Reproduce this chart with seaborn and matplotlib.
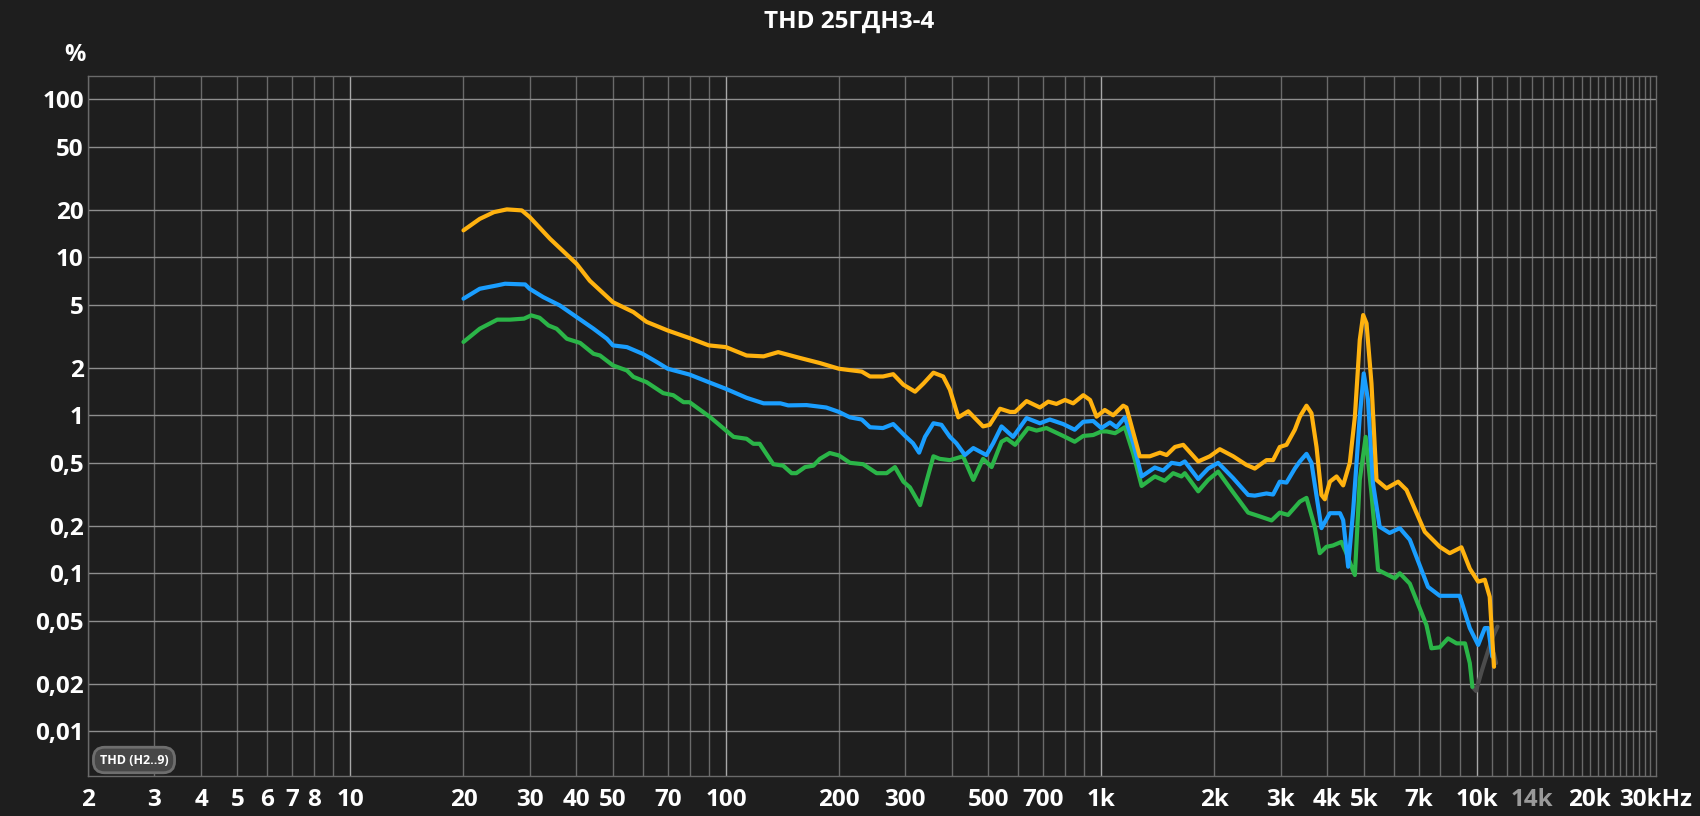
import matplotlib
matplotlib.use("Agg")
import matplotlib.pyplot as plt
import seaborn as sns
import pandas as pd
import numpy as np

# ---------------- data ----------------
orange_f = [20, 22.1, 24.1, 26.1, 28.6, 30, 34, 40, 43.4, 50, 56.7, 61.5, 70, 80, 90, 100, 113.5, 126, 137.8, 157, 178, 200,
            214, 230, 242, 262, 279, 297, 319, 336, 357, 379, 395, 416, 442, 484, 504, 537, 571, 589, 632, 686, 722, 759,
            800, 841, 895, 933, 971, 1021, 1075, 1143, 1166, 1265, 1346, 1432, 1492, 1570, 1652, 1811, 1945, 2067, 2244,
            2434, 2562, 2752, 2866, 2986, 3112, 3275, 3377, 3518, 3627, 3741, 3856, 3937, 4060, 4230, 4405, 4588, 4733,
            4877, 4980, 5083, 5240, 5404, 5746, 6170, 6495, 7267, 7966, 8467, 9096, 9576, 10080, 10500, 10820, 11110]
orange_v = [14.8, 17.5, 19.3, 20.1, 19.8, 18.0, 13.1, 9.1, 7.1, 5.2, 4.5, 3.9, 3.44, 3.08, 2.77, 2.70, 2.39, 2.36, 2.51, 2.31,
            2.14, 1.97, 1.93, 1.89, 1.76, 1.76, 1.82, 1.56, 1.41, 1.59, 1.86, 1.76, 1.45, 0.97, 1.06, 0.85, 0.87, 1.10, 1.05,
            1.05, 1.23, 1.12, 1.22, 1.18, 1.25, 1.19, 1.34, 1.25, 0.98, 1.08, 1.0, 1.15, 1.12, 0.55, 0.55, 0.58, 0.56, 0.63,
            0.65, 0.51, 0.55, 0.61, 0.55, 0.485, 0.46, 0.52, 0.52, 0.63, 0.65, 0.81, 0.98, 1.15, 1.03, 0.63, 0.313, 0.294,
            0.38, 0.41, 0.36, 0.50, 0.98, 3.0, 4.31, 3.82, 1.59, 0.39, 0.345, 0.38, 0.337, 0.183, 0.147, 0.134, 0.146,
            0.107, 0.0885, 0.091, 0.071, 0.0256]

blue_f = [20, 22.1, 24.6, 25.8, 29.2, 30, 32.6, 36.1, 40, 44.4, 48.2, 50, 54.5, 60, 65.5, 70, 80, 90, 100, 113.5, 126, 139.7,
          146.5, 164, 185, 200, 214, 230, 242, 262, 279, 300, 315, 327, 339, 357, 375, 395, 411, 433, 456, 494, 515, 542,
          582, 632, 686, 729, 791, 849, 895, 951, 1000, 1054, 1097, 1155, 1216, 1280, 1388, 1461, 1538, 1619, 1668, 1811,
          1925, 2046, 2244, 2460, 2562, 2752, 2866, 2986, 3112, 3275, 3377, 3518, 3627, 3856, 4060, 4320, 4405, 4542,
          4685, 4877, 4997, 5130, 5290, 5510, 5855, 6233, 6629, 7412, 7966, 9000, 9576, 10080, 10500, 10720, 10990]
blue_v = [5.47, 6.32, 6.64, 6.8, 6.73, 6.32, 5.6, 4.96, 4.19, 3.53, 3.05, 2.77, 2.70, 2.45, 2.17, 1.97, 1.81, 1.62, 1.47,
          1.29, 1.19, 1.19, 1.155, 1.16, 1.12, 1.05, 0.97, 0.94, 0.84, 0.83, 0.88, 0.74, 0.665, 0.58, 0.73, 0.89, 0.87,
          0.73, 0.665, 0.56, 0.62, 0.56, 0.665, 0.85, 0.73, 0.96, 0.89, 0.94, 0.88, 0.81, 0.91, 0.92, 0.83, 0.90, 0.84,
          0.97, 0.665, 0.41, 0.467, 0.447, 0.50, 0.49, 0.51, 0.395, 0.46, 0.50, 0.40, 0.313, 0.31, 0.32, 0.315, 0.38,
          0.375, 0.46, 0.51, 0.57, 0.50, 0.193, 0.24, 0.24, 0.217, 0.11, 0.252, 0.98, 1.84, 1.25, 0.37, 0.197, 0.18,
          0.193, 0.163, 0.082, 0.072, 0.072, 0.045, 0.0352, 0.045, 0.045, 0.0297]

green_f = [20, 22.1, 24.6, 26.6, 29.0, 30.3, 31.9, 33.7, 35.4, 37.7, 40.9, 44.4, 46.2, 50, 54.5, 56.7, 61.5, 68.1, 72.4,
           77.1, 80, 90.7, 104.8, 113.5, 118.3, 123, 133.7, 142, 149.6, 154, 162.5, 171, 178, 189, 200, 214, 232, 252,
           268, 282, 297, 309, 329, 342, 357, 371, 395, 428, 456, 484, 510, 542, 560, 589, 638, 672, 714, 791, 849, 895,
           951, 1000, 1034, 1087, 1155, 1216, 1280, 1388, 1475, 1553, 1634, 1668, 1811, 1925, 2046, 2244, 2460, 2643,
           2840, 2986, 3142, 3377, 3518, 3700, 3816, 3974, 4140, 4357, 4494, 4637, 4733, 4877, 5057, 5240, 5456, 5800,
           6045, 6233, 6629, 7341, 7570, 7966, 8380, 8830, 9300, 9576, 9730]
green_v = [2.91, 3.53, 4.03, 4.03, 4.09, 4.29, 4.14, 3.70, 3.53, 3.05, 2.87, 2.45, 2.39, 2.07, 1.92, 1.75, 1.62, 1.38, 1.34,
           1.21, 1.21, 0.975, 0.73, 0.71, 0.66, 0.66, 0.49, 0.48, 0.43, 0.43, 0.47, 0.48, 0.53, 0.577, 0.557, 0.50, 0.49,
           0.43, 0.43, 0.47, 0.38, 0.35, 0.27, 0.38, 0.55, 0.53, 0.52, 0.55, 0.39, 0.53, 0.47, 0.68, 0.71, 0.65, 0.83,
           0.80, 0.83, 0.74, 0.68, 0.74, 0.75, 0.79, 0.79, 0.77, 0.84, 0.57, 0.357, 0.41, 0.385, 0.43, 0.41, 0.43, 0.33,
           0.39, 0.44, 0.325, 0.242, 0.229, 0.216, 0.242, 0.234, 0.284, 0.30, 0.197, 0.134, 0.147, 0.15, 0.158, 0.134,
           0.11, 0.0975, 0.39, 0.73, 0.32, 0.105, 0.0975, 0.093, 0.10, 0.086, 0.047, 0.0335, 0.034, 0.0387, 0.036,
           0.036, 0.027, 0.0191]

gray_f = [9730, 9950, 10300, 10700, 11050, 11350]
gray_v = [0.0191, 0.0180, 0.024, 0.032, 0.040, 0.046]
gray2_f = [11100, 11250]
gray2_v = [0.031, 0.027]

x_ticks = [2, 3, 4, 5, 6, 7, 8, 10, 20, 30, 40, 50, 70, 100, 200, 300, 500, 700, 1000, 2000, 3000, 4000, 5000, 7000,
           10000, 14000, 20000, 30000]
x_labels = ["2", "3", "4", "5", "6", "7", "8", "10", "20", "30", "40", "50", "70", "100", "200", "300", "500", "700",
            "1k", "2k", "3k", "4k", "5k", "7k", "10k", "14k", "20k", "30kHz"]
y_ticks = [0.01, 0.02, 0.05, 0.1, 0.2, 0.5, 1, 2, 5, 10, 20, 50, 100]
y_labels = ["0,01", "0,02", "0,05", "0,1", "0,2", "0,5", "1", "2", "5", "10", "20", "50", "100"]

title = "THD 25ГДН3-4"
legend_text = "THD (H2..9)"

# ---------------- style ----------------
BG = "#1e1e1e"
sns.set_theme(style="dark", rc={"axes.facecolor": BG, "figure.facecolor": BG})
plt.rcParams["font.family"] = ["Open Sans", "DejaVu Sans"]
plt.rcParams["font.weight"] = "bold"

fig = plt.figure(figsize=(17, 8.16), dpi=100)
W, H = 1700, 816
ax = fig.add_axes([88 / W, 1 - 776 / H, (1656 - 88) / W, (776 - 76) / H])
ax.set_facecolor(BG)
ax.set_xscale("log")
ax.set_yscale("log")
ax.set_xlim(2, 30000)
ax.set_ylim(0.00521, 140.4)

# grid lines
minor_x = []
for dec in [1, 10, 100, 1000]:
    for k in range(2, 10):
        minor_x.append(k * dec)
for k in range(11, 30):
    minor_x.append(k * 1000)
for xv in minor_x:
    if xv < 30000:
        ax.axvline(xv, color="#6a6a6a", lw=1.0, zorder=1)
for xv in [10, 100, 1000, 10000]:
    ax.axvline(xv, color="#a8a8a8", lw=1.0, zorder=1.1)
for yv in y_ticks:
    ax.axhline(yv, color="#8e8e8e", lw=1.0, zorder=1)
ax.grid(False)
for sp in ax.spines.values():
    sp.set_color("#6a6a6a")
    sp.set_linewidth(1.0)

# curves
df = pd.concat([
    pd.DataFrame({"f": gray_f, "v": gray_v, "s": "gray"}),
    pd.DataFrame({"f": gray2_f, "v": gray2_v, "s": "gray2"}),
    pd.DataFrame({"f": green_f, "v": green_v, "s": "green"}),
    pd.DataFrame({"f": blue_f, "v": blue_v, "s": "blue"}),
    pd.DataFrame({"f": orange_f, "v": orange_v, "s": "orange"}),
], ignore_index=True)
palette = {"gray": "#4c4c4c", "gray2": "#4c4c4c", "green": "#2bb548", "blue": "#1a9eff", "orange": "#ffb20f"}
sns.lineplot(data=df, x="f", y="v", hue="s", palette=palette, estimator=None, sort=False,
             lw=3.0, legend=False, ax=ax, zorder=3)
for ln in ax.get_lines():
    ln.set_solid_joinstyle("round")
    ln.set_solid_capstyle("round")
ax.set_xlabel("")
ax.set_ylabel("")

# ticks
ax.set_xticks(x_ticks)
ax.set_xticklabels(x_labels)
ax.set_xticks([], minor=True)
ax.set_yticks(y_ticks)
ax.set_yticklabels(y_labels)
ax.set_yticks([], minor=True)
ax.tick_params(axis="x", length=0, pad=9, labelsize=17.5, labelcolor="white")
ax.tick_params(axis="y", length=0, pad=3, labelsize=17.5, labelcolor="white")
for lab in ax.get_xticklabels() + ax.get_yticklabels():
    lab.set_fontweight("bold")
    if lab.get_text() == "14k":
        lab.set_color("#9a9a9a")

fig.text(75 / W, 1 - 55 / H, "%", ha="center", va="center", color="white", fontsize=17, fontweight="bold")
fig.text(849 / W, 1 - 22 / H, title, ha="center", va="center", color="white", fontsize=17.5, fontweight="bold")
fig.text(134 / W, 1 - 760 / H, legend_text, ha="center", va="center", color="white", fontsize=9,
         fontweight="bold",
         bbox=dict(boxstyle="round,pad=0.5,rounding_size=0.9", fc="#474747", ec="#6e6e6e", lw=2))

fig.savefig("out.png", dpi=100, facecolor=BG)
